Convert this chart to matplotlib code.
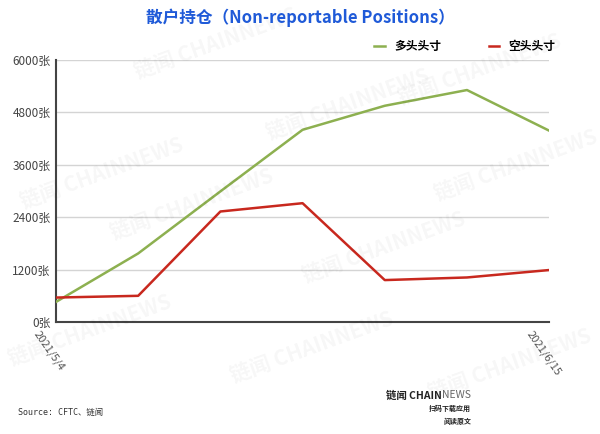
import matplotlib.pyplot as plt
from matplotlib.lines import Line2D
import matplotlib.transforms as mtransforms

plt.rcParams['font.family'] = ['Noto Sans CJK SC', 'DejaVu Sans']

dates = ['2021/5/4', '2021/5/11', '2021/5/18', '2021/5/25', '2021/6/1', '2021/6/8', '2021/6/15']
long_pos = [460, 1570, 2990, 4400, 4950, 5310, 4380]
short_pos = [560, 600, 2530, 2720, 960, 1020, 1190]
yticks = [0, 1200, 2400, 3600, 4800, 6000]
shown_labels = ['2021/5/4', '', '', '', '', '', '2021/6/15']

fig = plt.figure(figsize=(6, 4.34), dpi=100)
fig.patch.set_facecolor('white')

# faint watermarks
marks = [(0.36, 0.90), (0.80, 0.84), (0.17, 0.60), (0.58, 0.76), (0.32, 0.53),
         (0.64, 0.43), (0.86, 0.62), (0.15, 0.24), (0.52, 0.20), (0.85, 0.16)]
for mx, my in marks:
    fig.text(mx, my, '链闻 CHAINNEWS', fontsize=15, fontweight='bold', color='#000000',
             alpha=0.035, rotation=20, ha='center', va='center', zorder=0)

ax = fig.add_axes([0.0933, 0.258, 0.822, 0.604])
ax.set_facecolor('none')
x = list(range(len(dates)))
ax.plot(x, long_pos, color='#8db050', lw=1.8, zorder=3)
ax.plot(x, short_pos, color='#c8281e', lw=1.8, zorder=3)

ax.set_xlim(0, len(dates) - 1)
ax.set_ylim(0, 6000)
ax.set_yticks(yticks)
ax.set_yticklabels([f'{v}张' for v in yticks], fontsize=8.5, color='#444444')
ax.set_xticks(x)
ax.set_xticklabels([])
# rotated date labels, shifted left of the tick like the original
offset = mtransforms.ScaledTranslation(-0.20, -0.10, fig.dpi_scale_trans)
for xi, lab in zip(x, shown_labels):
    if lab:
        ax.text(xi, 0, lab, transform=ax.get_xaxis_transform() + offset,
                rotation=-55, rotation_mode='anchor', ha='left', va='center',
                fontsize=8, color='#555555', clip_on=False)
ax.tick_params(axis='both', length=0, pad=4)
ax.grid(axis='y', color='#d4d4d4', lw=1)
for s in ['top', 'right']:
    ax.spines[s].set_visible(False)
ax.spines['left'].set_color('#444444')
ax.spines['left'].set_linewidth(1.5)
ax.spines['bottom'].set_color('#444444')
ax.spines['bottom'].set_linewidth(1.5)

fig.legend(handles=[Line2D([], [], color='#8db050', lw=1.8),
                    Line2D([], [], color='#c8281e', lw=1.8)],
           labels=['多头头寸', '空头头寸'], loc='center', bbox_to_anchor=(0.775, 0.892),
           ncol=2, frameon=False, handlelength=0.9, columnspacing=4.0,
           prop={'size': 8.5, 'weight': 'bold'})

fig.text(0.5, 0.960, '散户持仓（Non-reportable Positions）', ha='center', va='center',
         fontsize=12, fontweight='bold', color='#1f5ad8')

fig.text(0.03, 0.05, 'Source: CFTC、链闻', fontsize=6, family=['DejaVu Sans Mono', 'Noto Sans CJK SC'],
         color='#333333', va='center')

news = fig.text(0.785, 0.082, 'NEWS', fontsize=7.5, color='#666666', va='baseline', ha='right')
ax.annotate('链闻 CHAIN', xy=(0, 0), xycoords=news, va='bottom', ha='right',
            fontsize=7.5, fontweight='bold', color='#222222', annotation_clip=False)
fig.text(0.785, 0.058, '扫码下载应用', fontsize=5, fontweight='bold', color='#222222', va='center', ha='right')
fig.text(0.785, 0.030, '阅读原文', fontsize=5, fontweight='bold', color='#222222', va='center', ha='right')

fig.savefig('out.png', dpi=100)
